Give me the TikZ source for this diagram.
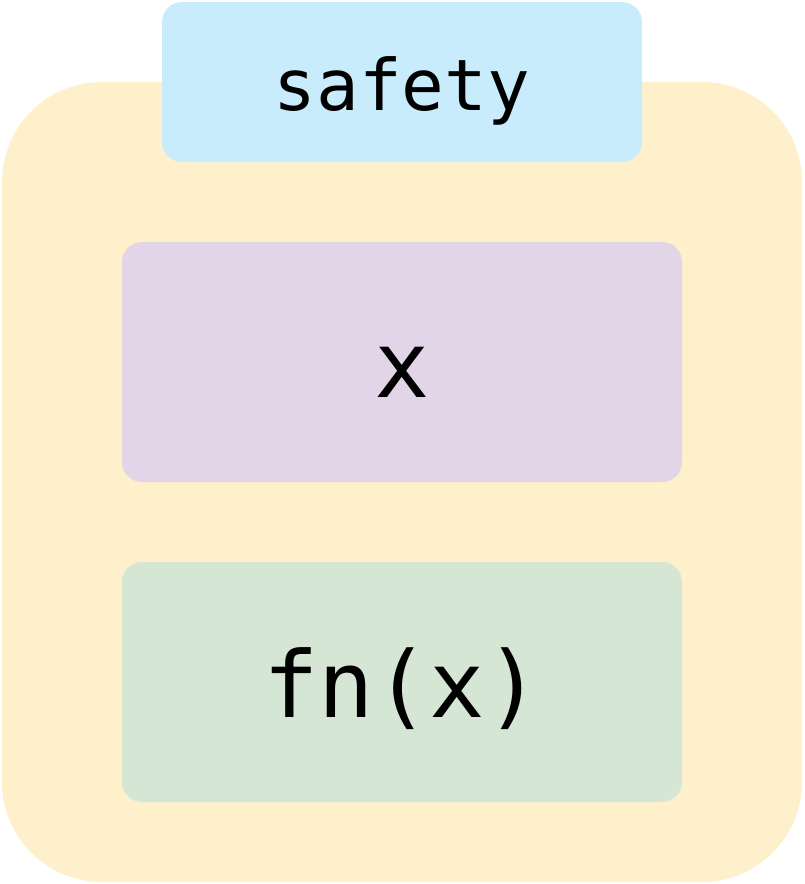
\documentclass[tikz,border=0pt]{standalone}
\usepackage{fontspec}
\setmonofont{DejaVu Sans Mono}
\definecolor{outeryellow}{HTML}{FFF0CC}
\definecolor{tagblue}{HTML}{C8ECFC}
\definecolor{argpurple}{HTML}{E1D5E7}
\definecolor{resgreen}{HTML}{D5E6D4}
\tikzset{
  panel/.style={rectangle,rounded corners=20pt,inner sep=0pt,text depth=0pt,text height=70pt,font=\ttfamily\fontsize{92}{96}\selectfont}
}
\begin{document}
\begin{tikzpicture}[x=1pt,y=-1pt]
\pgfmathsetmacro{\boxw}{560}
\pgfmathsetmacro{\boxh}{240}
\useasboundingbox (0,0) rectangle (804,884);
\node[rectangle,rounded corners=100pt,fill=outeryellow,minimum width=800pt,minimum height=800pt] (scope) at (402,482) {};
\node[panel,fill=tagblue,minimum width=480pt,minimum height=160pt,text height=56pt,font=\ttfamily\fontsize{71}{75}\selectfont] (safety) at (402,82) {safety};
\node[panel,fill=argpurple,minimum width=\boxw pt,minimum height=\boxh pt] (arg) at (402,362) {x};
\node[panel,fill=resgreen,minimum width=\boxw pt,minimum height=\boxh pt] (call) at (402,682) {fn(x)};
\end{tikzpicture}
\end{document}
